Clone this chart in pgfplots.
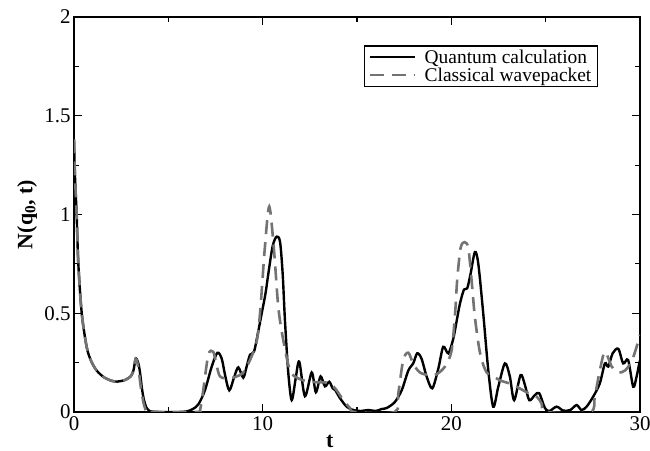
\documentclass[border=0pt]{standalone}
\usepackage{pgfplots}
\pgfplotsset{compat=1.18}
\usepackage{fontspec}
\setmainfont{Liberation Serif}
\definecolor{clgray}{gray}{0.45}
\begin{document}
\begin{tikzpicture}
\begin{axis}[
  name=ax,
  scale only axis,
  width=566bp, height=395bp,
  xmin=0, xmax=30, ymin=0, ymax=2,
  xtick={0,10,20,30}, minor xtick={5,15,25},
  ytick={0,0.5,1,1.5,2}, minor ytick={0.25,0.75,1.25,1.75},
  tick align=inside,
  tick pos=both,
  major tick length=8bp, minor tick length=5bp,
  every tick/.style={black, line width=1.2bp},
  axis line style={line width=2bp},
  /pgf/number format/assume math mode=true,
  tick label style={font=\fontsize{21}{24}\selectfont},
  xticklabel style={yshift=-1bp},
  xlabel={\textbf{t}},
  ylabel={\textbf{N(q\textsubscript{0}, t)}},
  label style={font=\fontsize{22}{25}\selectfont},
  xlabel style={at={(axis description cs:0.452,-0.05)}, anchor=north},
  ylabel style={at={(axis description cs:-0.083,0.5)}, anchor=center},
  legend style={at={(axis description cs:0.926,0.929)}, anchor=north east,
    draw=black, line width=1.5bp, font=\fontsize{19.5}{22}\selectfont,
    inner xsep=4bp, inner ysep=2bp, row sep=-1bp},
  legend cell align=left,
  legend image code/.code={\draw[#1, line width=2bp] (0bp,0bp) -- (45bp,0bp);},
]
\addplot[black, line width=2.4bp, smooth, tension=0.5] coordinates {
(0,1.38) (0.05,1.2) (0.14,1.0) (0.23,0.75) (0.41,0.5) (0.67,0.33) (0.9,0.26)
(1.2,0.21) (1.6,0.175) (2.0,0.158) (2.3,0.154) (2.7,0.162) (3.0,0.18) (3.15,0.21)
(3.27,0.27) (3.4,0.25) (3.5,0.2) (3.6,0.12) (3.71,0.06) (3.85,0.02) (4.0,0.005)
(4.5,0) (5.5,0) (5.97,0.003) (6.3,0.015) (6.6,0.04) (6.94,0.11) (7.3,0.23)
(7.6,0.30) (7.83,0.27) (8.0,0.19) (8.23,0.11) (8.5,0.18) (8.71,0.226) (8.97,0.174)
(9.15,0.23) (9.33,0.29) (9.54,0.305) (9.75,0.4) (9.95,0.5) (10.15,0.6) (10.3,0.70)
(10.53,0.84) (10.74,0.888) (10.92,0.862) (11.06,0.70) (11.18,0.466) (11.36,0.196)
(11.54,0.06) (11.75,0.17) (11.94,0.255) (12.24,0.08) (12.6,0.2) (12.82,0.10)
(13.07,0.18) (13.3,0.13) (13.53,0.153) (13.71,0.12) (13.85,0.11) (14.1,0.07)
(14.45,0.027) (14.8,0.01) (15.2,0.005) (15.6,0.01) (16.0,0.005) (16.3,0.015)
(16.57,0.02) (17.0,0.05) (17.37,0.11) (17.72,0.21) (17.98,0.246) (18.19,0.297)
(18.42,0.27) (18.69,0.18) (18.99,0.12) (19.31,0.22) (19.57,0.33) (19.84,0.297)
(20.1,0.37) (20.3,0.47) (20.46,0.55) (20.67,0.62) (20.84,0.626) (21.02,0.70)
(21.25,0.81) (21.43,0.75) (21.69,0.5) (21.96,0.21) (22.22,0.027) (22.49,0.128)
(22.84,0.246) (23.1,0.18) (23.33,0.06) (23.67,0.187) (23.9,0.137) (24.13,0.06)
(24.43,0.086) (24.66,0.095) (24.96,0.02) (25.2,0.005) (25.58,0.027) (25.93,0.007)
(26.3,0.01) (26.64,0.035) (26.9,0.01) (27.17,0.027) (27.52,0.078) (27.87,0.145)
(28.14,0.246) (28.32,0.23) (28.55,0.297) (28.85,0.32) (29.11,0.246) (29.37,0.263)
(29.64,0.128) (29.82,0.18) (29.96,0.246) (30,0.26)
};
\addlegendentry{\hspace{7bp}Quantum calculation}
\addplot[clgray, line width=2.6bp, dash pattern=on 14bp off 8bp, smooth, tension=0.5] coordinates {
(0,1.38) (0.05,1.2) (0.14,1.0) (0.23,0.75) (0.41,0.5) (0.67,0.33) (0.9,0.26)
(1.2,0.21) (1.6,0.175) (2.0,0.158) (2.3,0.154) (2.7,0.162) (3.0,0.18) (3.15,0.21)
(3.27,0.27) (3.4,0.23) (3.55,0.12) (3.7,0.04) (3.85,0.0) (4.0,0) (6.5,0)
(6.68,0.01) (6.85,0.11) (7.12,0.29) (7.38,0.305) (7.55,0.24) (7.74,0.18)
(8.18,0.17) (8.62,0.18) (8.97,0.20) (9.33,0.263) (9.68,0.356) (9.86,0.5)
(10.12,0.837) (10.35,1.04) (10.6,0.82) (10.83,0.53) (11.09,0.365) (11.45,0.21)
(11.89,0.17) (12.5,0.153) (13.2,0.15) (13.57,0.145) (13.92,0.11) (14.27,0.06)
(14.63,0.02) (14.9,0) (17.0,0) (17.19,0.095) (17.45,0.263) (17.72,0.30)
(18.0,0.24) (18.34,0.20) (18.78,0.187) (19.2,0.19) (19.66,0.23) (20.01,0.31)
(20.2,0.5) (20.31,0.668) (20.49,0.83) (20.7,0.86) (20.9,0.83) (21.07,0.67)
(21.25,0.48) (21.52,0.30) (21.87,0.20) (22.4,0.17) (22.58,0.16) (23.28,0.137)
(23.99,0.10) (24.52,0.078) (24.78,0.044) (25.05,0) (27.35,0) (27.6,0.078)
(27.87,0.21) (28.14,0.305) (28.5,0.23) (28.85,0.20) (29.2,0.21) (29.55,0.255)
(29.82,0.33) (30,0.39)
};
\addlegendentry{\hspace{7bp}Classical wavepacket}
\end{axis}
\pgfresetboundingbox
\path (ax.south west) ++(-74bp,-39bp) rectangle ([shift={(10bp,17bp)}]ax.north east);
\end{tikzpicture}
\end{document}
